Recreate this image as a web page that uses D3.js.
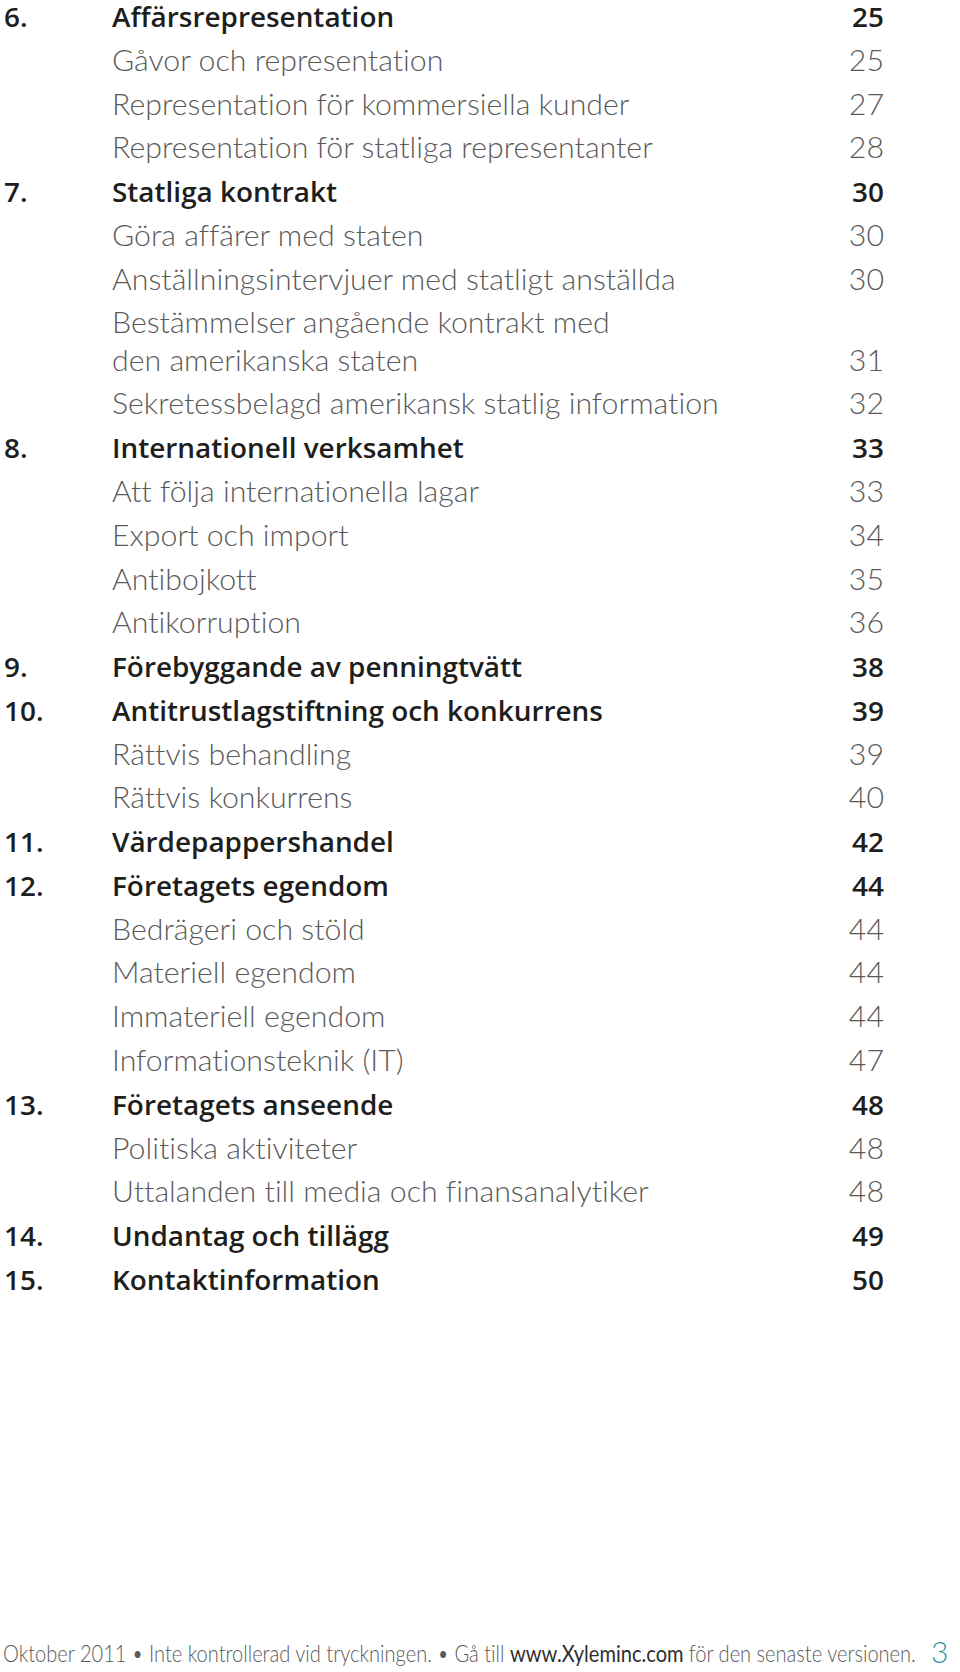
<!DOCTYPE html>
<html>
<head>
<meta charset="utf-8">
<script src="https://cdn.jsdelivr.net/npm/d3@7"></script>
<style>
  html, body { margin: 0; padding: 0; background: #fff; }
  svg { display: block; }
  text { font-variant-ligatures: no-common-ligatures; font-kerning: normal; }
</style>
</head>
<body>
<svg id="page" width="960" height="1672"></svg>
<script>
// ---- Data ----
const entryNums = ["6.", "", "", "", "7.", "", "", "", "", "8.", "", "", "", "", "9.", "10.", "", "", "11.", "12.", "", "", "", "", "13.", "", "", "14.", "15."];
const entryTitles = [
  "Affärsrepresentation",
  "Gåvor och representation",
  "Representation för kommersiella kunder",
  "Representation för statliga representanter",
  "Statliga kontrakt",
  "Göra affärer med staten",
  "Anställningsintervjuer med statligt anställda",
  "Bestämmelser angående kontrakt med|den amerikanska staten",
  "Sekretessbelagd amerikansk statlig information",
  "Internationell verksamhet",
  "Att följa internationella lagar",
  "Export och import",
  "Antibojkott",
  "Antikorruption",
  "Förebyggande av penningtvätt",
  "Antitrustlagstiftning och konkurrens",
  "Rättvis behandling",
  "Rättvis konkurrens",
  "Värdepappershandel",
  "Företagets egendom",
  "Bedrägeri och stöld",
  "Materiell egendom",
  "Immateriell egendom",
  "Informationsteknik (IT)",
  "Företagets anseende",
  "Politiska aktiviteter",
  "Uttalanden till media och finansanalytiker",
  "Undantag och tillägg",
  "Kontaktinformation"
];
const entryPages = [25, 25, 27, 28, 30, 30, 30, 31, 32, 33, 33, 34, 35, 36, 38, 39, 39, 40, 42, 44, 44, 44, 44, 47, 48, 48, 48, 49, 50];
const entryLevels = [1, 2, 2, 2, 1, 2, 2, 2, 2, 1, 2, 2, 2, 2, 1, 1, 2, 2, 1, 1, 2, 2, 2, 2, 1, 2, 2, 1, 1];

const footerParts = ["Oktober 2011 • Inte kontrollerad vid tryckningen. • Gå till", "www.Xyleminc.com", "för den senaste versionen."];
const pageNumber = "3";

// ---- Layout / style ----
const boldFont = "'Open Sans', 'Noto Sans', sans-serif";
const lightFont = "Lato, 'Noto Sans', sans-serif";
const colDark = "#1e1e1c";
const colGray = "#5a5a5a";
const teal = "#2f93a3";

const xNum = 4, xTitle = 112, xPage = 884;
const wrapUnits = 0.852; // extra height of a wrapped line in row units

let extra = 0;
const rows = entryTitles.map((t, i) => {
  const lines = t.split("|");
  const pos = i + extra;
  extra += (lines.length - 1) * wrapUnits;
  return { num: entryNums[i], lines, page: entryPages[i], level: entryLevels[i], pos };
});

const y = d3.scaleLinear().domain([0, 1]).range([27, 27 + 43.77]);

const svg = d3.select("#page");
const g = svg.append("g");

const entry = g.selectAll("g.entry").data(rows).join("g").attr("class", "entry");

entry.append("text")
  .attr("class", d => d.level === 1 ? "bold" : "light")
  .attr("x", xNum)
  .attr("y", d => y(d.pos))
  .text(d => d.num);

entry.each(function(d) {
  const sel = d3.select(this);
  d.lines.forEach((ln, k) => {
    sel.append("text")
      .attr("class", d.level === 1 ? "bold title" : "light title")
      .attr("x", xTitle)
      .attr("y", y(d.pos + k * wrapUnits))
      .text(ln);
  });
  sel.append("text")
    .attr("class", d.level === 1 ? "bold" : "light")
    .attr("x", xPage)
    .attr("text-anchor", "end")
    .attr("y", y(d.pos + (d.lines.length - 1) * wrapUnits))
    .text(d.page);
});

svg.selectAll("text.bold").attr("font-family", boldFont).attr("font-weight", 600).attr("fill", colDark);
svg.selectAll("text.light").attr("font-family", lightFont).attr("font-weight", 300).attr("fill", colGray);

function fitSize(cls, sample, targetW, base) {
  svg.selectAll("text." + cls).attr("font-size", base);
  const t = svg.selectAll("text.title." + cls).filter(function() { return this.textContent === sample; }).node();
  const w = t.getComputedTextLength();
  svg.selectAll("text." + cls).attr("font-size", base * targetW / w);
}
fitSize("light", "Representation för statliga representanter", 541, 28);
fitSize("bold", "Internationell verksamhet", 352, 28);

// footer: sequential texts in a horizontally condensed group
const fg = svg.append("g");
const fs = 24;
const space = fs * 0.26;
let cx = 0;
footerParts.forEach((p, i) => {
  const t = fg.append("text")
    .attr("x", cx)
    .attr("y", 0)
    .attr("font-family", lightFont)
    .attr("font-weight", i === 1 ? 400 : 300)
    .attr("font-size", fs)
    .attr("fill", i === 1 ? "#2e2e2e" : colGray)
    .text(p);
  cx += t.node().getComputedTextLength() + space;
});
const natW = cx - space;
const sx = 913 / natW;
fg.attr("transform", `translate(3,1662) scale(${sx},1)`);

svg.append("text")
  .attr("x", 931)
  .attr("y", 1663)
  .attr("font-family", lightFont)
  .attr("font-weight", 300)
  .attr("font-size", 30)
  .attr("fill", teal)
  .text(pageNumber);
</script>
</body>
</html>
